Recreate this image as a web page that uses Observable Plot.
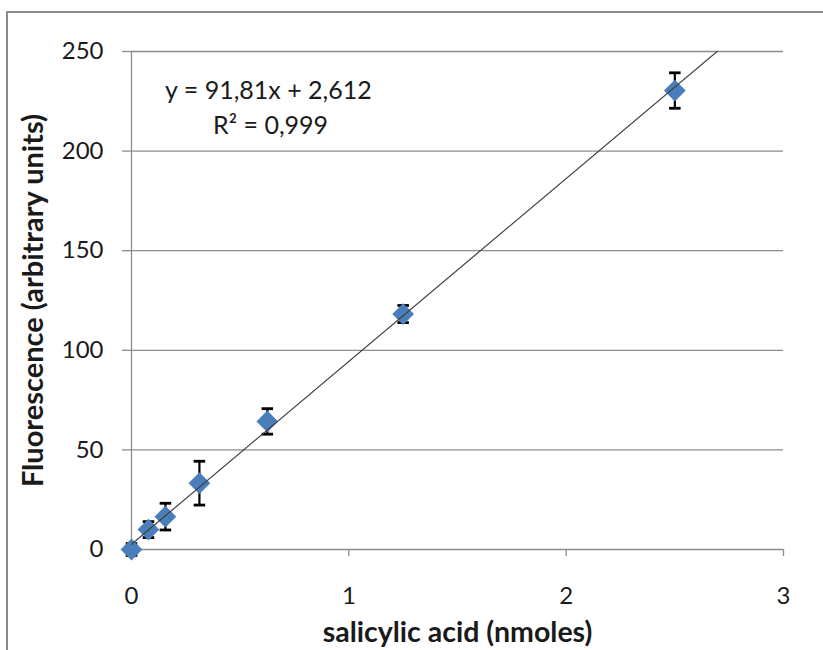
<!DOCTYPE html>
<html><head><meta charset="utf-8">
<script src="https://cdn.jsdelivr.net/npm/d3@7"></script>
<script src="https://cdn.jsdelivr.net/npm/@observablehq/plot@0.6"></script>
<style>
html,body{margin:0;padding:0;background:#fff;overflow:hidden;}
#wrap{position:relative;width:823px;height:650px;overflow:hidden;}
#border{position:absolute;left:6px;top:11px;width:900px;height:700px;border-left:2px solid #8c8c8c;border-top:2px solid #8c8c8c;}
#chart{position:absolute;left:0;top:0;}
</style></head><body>
<div id="wrap"><div id="border"></div><div id="chart"></div></div>
<script>
const amounts = [0, 0.078, 0.156, 0.3125, 0.625, 1.25, 2.5];
const fluorescence = [0, 10, 16.5, 33.3, 64.3, 118.2, 230.4];
const errors = [3, 4, 6.7, 11, 6.4, 4.3, 8.9];
const xTicks = [0, 1, 2, 3];
const yTicks = [0, 50, 100, 150, 200, 250];
const slope = 91.81, intercept = 2.612;
const trendX = [0, 3];
const equationLabel = "y = 91,81x + 2,612";
const r2Label = "R² = 0,999";
const xTitle = "salicylic acid (nmoles)";
const yTitle = "Fluorescence (arbitrary units)";

const data = amounts.map((x, i) => ({x, y: fluorescence[i], lo: fluorescence[i] - errors[i], hi: fluorescence[i] + errors[i]}));
const trend = trendX.map(x => ({x, y: slope * x + intercept}));
const capSymbol = {draw(ctx, size) { const w = Math.sqrt(size) / 2; ctx.moveTo(-w, 0); ctx.lineTo(w, 0); }};

const font = "Lato, 'Open Sans', sans-serif";
const grid = "#8c8c8c";

const chart = Plot.plot({
  width: 823, height: 650,
  marginLeft: 131, marginRight: 40, marginTop: 51, marginBottom: 101,
  style: {fontFamily: font, fontSize: "24px", color: "#1a1a1a", background: "transparent"},
  x: {domain: [0, 3], ticks: xTicks},
  y: {domain: [0, 250], ticks: yTicks},
  marks: [
    Plot.gridY(yTicks, {stroke: grid, strokeOpacity: 1, strokeWidth: 1.3}),
    Plot.ruleX([0], {stroke: grid, strokeWidth: 1.3}),
    Plot.axisY(yTicks, {tickSize: 9, tickPadding: 19, stroke: grid, strokeOpacity: 1, strokeWidth: 1.3, label: null, fontSize: 24, tickFormat: d3.format("d")}),
    Plot.axisX(xTicks, {tickSize: 7, tickPadding: 30, stroke: grid, strokeOpacity: 1, strokeWidth: 1.3, label: null, fontSize: 24, tickFormat: d3.format("d")}),
    Plot.ruleX(data, {x: "x", y1: "lo", y2: "hi", stroke: "#000", strokeWidth: 2.2}),
    Plot.dot(data, {x: "x", y: "lo", symbol: capSymbol, r: 6.5, stroke: "#000", strokeWidth: 2.8, fill: "none"}),
    Plot.dot(data, {x: "x", y: "hi", symbol: capSymbol, r: 6.5, stroke: "#000", strokeWidth: 2.8, fill: "none"}),
    Plot.dot(data, {x: "x", y: "y", symbol: "diamond2", r: 9.8, fill: "#4a7ebb", stroke: "none"}),
    Plot.line(trend, {x: "x", y: "y", stroke: "#404040", strokeWidth: 1.2, clip: true}),
    Plot.text([equationLabel], {x: 0.63, y: 230, text: d => d, fontSize: 25, fill: "#1a1a1a"}),
    Plot.text([r2Label], {x: 0.64, y: 212.5, text: d => d, fontSize: 25, fill: "#1a1a1a"}),
    Plot.text([yTitle], {frameAnchor: "left", textAnchor: "middle", lineAnchor: "middle", dx: -98, rotate: -90, text: d => d, fontSize: 29, fontWeight: "bold", fill: "#1a1a1a"}),
    Plot.text([xTitle], {frameAnchor: "bottom", textAnchor: "middle", lineAnchor: "middle", dy: 83, text: d => d, fontSize: 28.5, fontWeight: "bold", fill: "#1a1a1a"})
  ]
});
document.getElementById("chart").appendChild(chart);
</script>
</body></html>
